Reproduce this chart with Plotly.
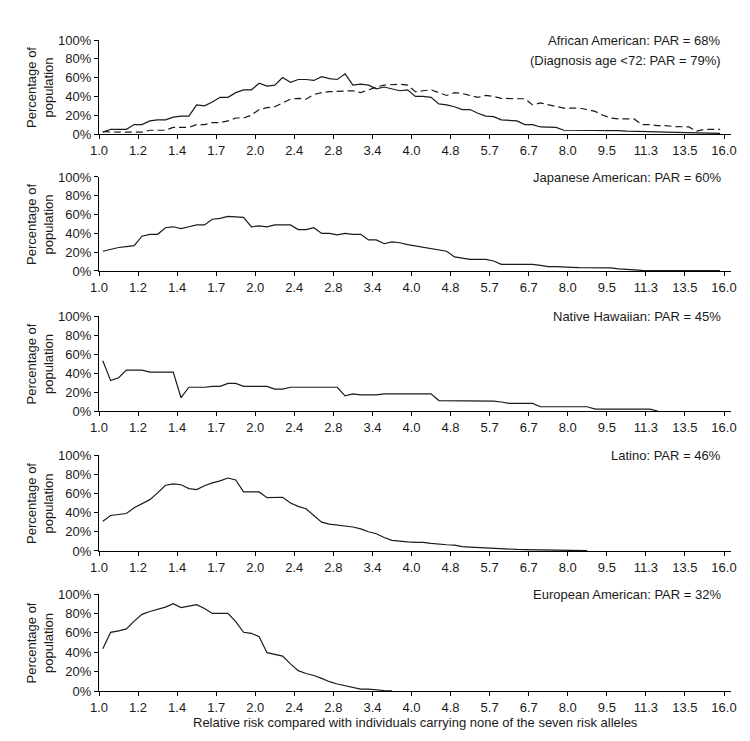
import plotly.graph_objects as go

# Relative-risk bins (x), five per tick interval on the log axis
rr = [1.017, 1.053, 1.091, 1.129, 1.169, 1.210, 1.253, 1.297, 1.343, 1.390,
      1.439, 1.490, 1.542, 1.597, 1.653, 1.711, 1.772, 1.834, 1.899, 1.966,
      2.035, 2.107, 2.181, 2.258, 2.338, 2.420, 2.505, 2.594, 2.685, 2.780,
      2.878, 2.979, 3.084, 3.193, 3.306, 3.422, 3.543, 3.668, 3.797, 3.931,
      4.070, 4.213, 4.362, 4.516, 4.675, 4.840, 5.011, 5.187, 5.370, 5.560,
      5.756, 5.959, 6.169, 6.386, 6.611, 6.845, 7.086, 7.336, 7.595, 7.863,
      8.140, 8.427, 8.724, 9.032, 9.350, 9.680, 10.022, 10.375, 10.741, 11.119,
      11.511, 11.918, 12.338, 12.773, 13.223, 13.689, 14.172, 14.672, 15.190, 15.725]

tick_vals = [1.0, 1.1892, 1.4142, 1.6818, 2.0, 2.3784, 2.8284, 3.3636, 4.0,
             4.7568, 5.6569, 6.7272, 8.0, 9.5137, 11.3137, 13.4543, 16.0]
tick_text = ["1.0", "1.2", "1.4", "1.7", "2.0", "2.4", "2.8", "3.4", "4.0",
             "4.8", "5.7", "6.7", "8.0", "9.5", "11.3", "13.5", "16.0"]

african_american = [2, 5, 5, 5, 10, 10, 14, 15, 15, 18,
                    19, 19, 31, 30, 34, 39, 39, 44, 47, 47,
                    54, 51, 52, 60, 55, 58, 58, 57, 61, 59,
                    58, 64, 52, 53, 52, 48, 50, 48, 46, 47,
                    40, 40, 39, 32, 31, 29, 26, 26, 22, 19,
                    18.5, 15, 14.5, 14, 10, 10, 7.5, 7, 7, 4,
                    4, 4, 4, 3.6, 3.6, 3.6, 3.6, 3, 3, 2.8,
                    2.5, 2.3, 2, 1.8, 1.4, 1.2, 1, 1, 0.8, 0.7]

african_american_lt72 = [2.5, 2, 2, 2, 2, 2, 4, 4, 4, 7,
                         7, 7, 10, 10, 12, 12, 14, 17, 17, 20,
                         26, 28, 29, 33, 37, 38, 37, 42, 44, 45,
                         45.5, 46, 46, 44, 47, 50, 52, 52.5, 53, 52,
                         45, 46, 47, 44, 41, 44, 43, 41, 39, 41,
                         40, 38, 37.5, 37.5, 37.5, 31, 33, 31, 29, 27.5,
                         27.5, 27.5, 26, 24, 20, 17, 16, 16, 16, 10,
                         10, 9, 9, 8, 7.5, 7.5, 3, 5, 5, 5]

japanese_american = [21, 23, 25, 26, 27, 37, 39, 39, 46, 47,
                     45, 47, 49, 49, 55, 56, 58, 57.5, 57, 47,
                     48, 47, 49, 49, 49, 44, 44, 46, 40, 40,
                     38.5, 40, 39, 39, 33, 33, 29, 31, 30, 28,
                     26.5, 25.5, 24, 22, 21, 15, 14, 12.4, 12.4, 12.4,
                     10.6, 7, 7, 7, 7, 7, 6, 4.6, 4.6, 4.6,
                     3.8, 3.5, 3.4, 3.3, 3.2, 3.2, 2.2, 1.5, 0.9, 0.6,
                     0.5, 0.5, 0.5, 0.5, 0.5, 0.5, 0.5, 0.5, 0.5, 0.5]

native_hawaiian = [53, 32, 35, 43, 43, 43, 41, 41, 41, 41,
                   14, 25, 25, 25, 26, 26, 29, 29, 26, 26,
                   26, 26, 23, 23, 25, 25, 25, 25, 25, 25,
                   25, 16, 18, 17, 17, 17, 18, 18, 18, 18,
                   18, 18, 18, 11, 11, 11, 11, 11, 11, 11,
                   10.5, 9.5, 8, 8, 8, 8, 4.5, 4.5, 4.5, 4.5,
                   4.5, 4.5, 4.5, 2, 2, 2, 2, 2, 2, 2,
                   2, 0]

latino = [31, 37, 38, 39, 45, 49, 53.5, 60.5, 68.5, 70,
          69, 65, 64, 68, 71, 73, 76, 74, 61.5, 61.5,
          61.5, 55.5, 55.5, 56, 50, 46.5, 44, 36.5, 30, 28,
          27, 25.5, 25, 23, 20, 18, 14, 11, 10, 9.5,
          9, 9, 8, 7, 6.5, 6, 4.5, 4, 3.5, 3,
          2.5, 2, 1.8, 1.6, 1.4, 1.3, 1.2, 1.1, 1, 0.9,
          0.8, 0.7, 0.3]

european_american = [43.5, 60.5, 62, 64, 72, 79, 82, 84, 86.5, 90,
                     86, 87.5, 89, 85, 80, 80, 80, 71.5, 60.5, 59.5,
                     56, 39.5, 38, 36, 28, 21, 18, 16, 13, 9.6,
                     7.2, 5.5, 4, 2, 2, 1, 0.5, 0.2]

panel_labels = ["African American: PAR = 68%", "Japanese American: PAR = 60%",
                "Native Hawaiian: PAR = 45%", "Latino: PAR = 46%",
                "European American: PAR = 32%"]
sub_label = "(Diagnosis age <72: PAR = 79%)"
y_tick_vals = [0, 20, 40, 60, 80, 100]
y_tick_text = ["0%", "20%", "40%", "60%", "80%", "100%"]

FONT = "Liberation Sans, Arial, sans-serif"
TXT = "#1a1a1a"
LINE = "#1a1a1a"

domains = [(0.8556, 1.0), (0.6452, 0.7896), (0.4301, 0.5760),
           (0.2151, 0.3625), (0.0, 0.1490)]

fig = go.Figure()

series = [
    (1, african_american, "solid"),
    (1, african_american_lt72, "7px,4px"),
    (2, japanese_american, "solid"),
    (3, native_hawaiian, "solid"),
    (4, latino, "solid"),
    (5, european_american, "solid"),
]
for panel, vals, dash in series:
    sfx = "" if panel == 1 else str(panel)
    fig.add_trace(go.Scatter(
        x=rr[:len(vals)], y=vals, mode="lines",
        line=dict(color=LINE, width=1.2, dash=dash),
        xaxis="x" + sfx, yaxis="y" + sfx, showlegend=False,
        hoverinfo="skip"))

layout = dict(
    width=750, height=741,
    margin=dict(l=91, r=27, t=32, b=58),
    paper_bgcolor="white", plot_bgcolor="white",
    font=dict(family=FONT, size=13, color=TXT),
    showlegend=False,
)
annotations = []
for i, (d0, d1) in enumerate(domains):
    n = i + 1
    sfx = "" if n == 1 else str(n)
    layout["xaxis" + sfx] = dict(
        type="log", range=[0, 1.2176], domain=[0, 1],
        anchor="y" + sfx, tickvals=tick_vals, ticktext=tick_text,
        ticks="outside", ticklen=4, tickwidth=1, tickcolor="black",
        showline=True, linecolor="black", linewidth=1.2,
        showgrid=False, zeroline=False,
        tickfont=dict(family=FONT, size=13, color=TXT))
    layout["yaxis" + sfx] = dict(
        range=[0, 100], domain=[d0, d1], anchor="x" + sfx,
        tickvals=y_tick_vals, ticktext=y_tick_text,
        ticks="outside", ticklen=4, tickwidth=1, tickcolor="black",
        showline=True, linecolor="black", linewidth=1.2,
        showgrid=False, zeroline=False,
        tickfont=dict(family=FONT, size=13, color=TXT))
    annotations.append(dict(
        text=panel_labels[i], xref="paper", x=0.9873, xanchor="right",
        yref="y" + sfx, y=99, yanchor="middle", showarrow=False,
        font=dict(family=FONT, size=13, color=TXT)))
    annotations.append(dict(
        text="Percentage of<br>population", xref="paper", x=-0.0934,
        xanchor="center", yref="paper", y=(d0 + d1) / 2, yanchor="middle",
        textangle=-90, showarrow=False,
        font=dict(family=FONT, size=13, color=TXT)))

annotations.append(dict(
    text=sub_label, xref="paper", x=0.9873, xanchor="right",
    yref="y", y=78.5, yanchor="middle", showarrow=False,
    font=dict(family=FONT, size=13, color=TXT)))
annotations.append(dict(
    text="Relative risk compared with individuals carrying none of the seven risk alleles",
    xref="paper", x=0.5, xanchor="center", yref="paper", y=-0.049,
    yanchor="middle", showarrow=False,
    font=dict(family=FONT, size=13, color=TXT)))
layout["annotations"] = annotations

fig.update_layout(**layout)
fig.write_html("out.html")
